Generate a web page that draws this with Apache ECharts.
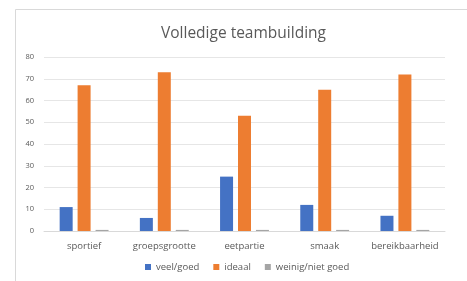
<!DOCTYPE html>
<html>
<head>
<meta charset="utf-8">
<script src="https://cdn.jsdelivr.net/npm/echarts@6/dist/echarts.min.js"></script>
<style>
  html, body { margin: 0; padding: 0; background: #fff; }
  #main { width: 467px; height: 281px; }
</style>
</head>
<body>
<div id="main"></div>
<script>
  var categories = ['sportief', 'groepsgrootte', 'eetpartie', 'smaak', 'bereikbaarheid'];
  var veelGoed = [11, 6, 25, 12, 7];
  var ideaal = [67, 73, 53, 65, 72];
  var weinigNietGoed = [0.5, 0.5, 0.5, 0.5, 0.5];

  var myChart = echarts.init(document.getElementById('main'));
  var font = 'Open Sans';

  myChart.setOption({
    backgroundColor: '#ffffff',
    animation: false,
    color: ['#4472C4', '#ED7D31', '#A5A5A5'],
    graphic: [{
      // rand van het grafiekvak
      type: 'rect',
      shape: { x: 15.5, y: 9.5, width: 460, height: 280 },
      style: { fill: 'none', stroke: '#d9d9d9', lineWidth: 1 }
    }],
    title: {
      text: 'Volledige teambuilding',
      left: 156,
      top: 21,
      textStyle: { fontFamily: font, fontSize: 15.5, fontWeight: 'normal', color: '#595959' }
    },
    legend: {
      bottom: 4,
      left: 140,
      itemWidth: 6,
      itemHeight: 6,
      itemGap: 14,
      icon: 'rect',
      textStyle: { fontFamily: font, fontSize: 9.5, color: '#595959' },
      data: ['veel/goed', 'ideaal', 'weinig/niet goed']
    },
    grid: { left: 44, right: 22, top: 57, bottom: 50 },
    xAxis: {
      type: 'category',
      data: categories,
      axisLine: { lineStyle: { color: '#d9d9d9' } },
      axisTick: { show: false },
      axisLabel: { interval: 0, fontFamily: font, fontSize: 9.5, color: '#595959', margin: 10 }
    },
    yAxis: {
      type: 'value',
      min: 0,
      max: 80,
      interval: 10,
      axisLine: { show: false },
      axisTick: { show: false },
      axisLabel: { fontFamily: font, fontSize: 7.5, color: '#595959', margin: 10 },
      splitLine: { lineStyle: { color: '#e6e6e6' } }
    },
    series: [
      { name: 'veel/goed', type: 'bar', barWidth: 13, barGap: '38%', data: veelGoed },
      { name: 'ideaal', type: 'bar', barWidth: 13, barGap: '38%', data: ideaal },
      { name: 'weinig/niet goed', type: 'bar', barWidth: 13, barGap: '38%', data: weinigNietGoed }
    ]
  });
</script>
</body>
</html>
